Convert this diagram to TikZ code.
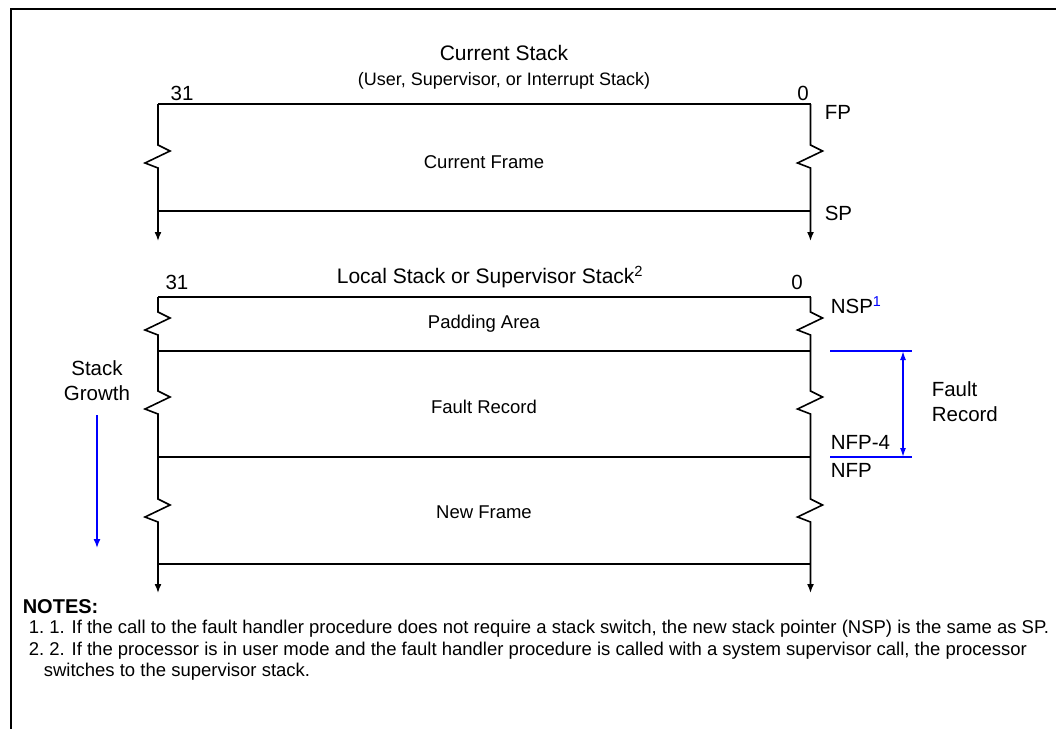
\documentclass[tikz,border=0pt]{standalone}
\usepackage{fontspec}
\setmainfont{Liberation Sans}
\usetikzlibrary{arrows.meta}

\begin{document}
\begin{tikzpicture}[x=1pt, y=-1pt, line width=1.6pt,
  zig/.style={insert path={-- ++(12,6) -- ++(-25,12) -- ++(13,5)}},
  downarr/.style={-{Latex[length=9pt,width=7pt]}},
  ttl/.style={inner sep=0pt, font=\fontsize{21}{25}\selectfont},
  sub/.style={inner sep=0pt, font=\fontsize{18}{22}\selectfont},
  box/.style={inner sep=0pt, font=\fontsize{18.5}{22}\selectfont},
  lbl/.style={inner sep=0pt, font=\fontsize{20.5}{25}\selectfont, align=left},
  note/.style={inner sep=0pt, anchor=west, font=\fontsize{18.5}{22}\selectfont}]
  \useasboundingbox (0,0) rectangle (1056,729);
  % Rahmen
  \draw[line width=2.2pt] (1056,9) -- (11,9) -- (11,729);
  \def\xl{158}
  \def\xr{810.5}
  % aktueller Stack
  \node[ttl] (cstk) at (504,53) {Current Stack};
  \node[sub] (csub) at (504,81) {(User, Supervisor, or Interrupt Stack)};
  \draw (\xl,104) -- (\xr,104);
  \draw (\xl,211) -- (\xr,211);
  \draw[downarr] (\xl,104) -- (\xl,145) [zig] -- (\xl,241);
  \draw[downarr] (\xr,104) -- (\xr,145) [zig] -- (\xr,241);
  \node[lbl] (c31) at (182,93) {31};
  \node[lbl] (c0) at (803,93) {0};
  \node[lbl, anchor=west] (fp) at (824,112) {FP};
  \node[lbl, anchor=west] (sp) at (824,213) {SP};
  \node[box] (cfr) at (484,162) {Current Frame};
  % lokaler Stack
  \node[ttl] (lstk) at (490,277) {Local Stack or Supervisor Stack\textsuperscript{2}};
  \draw (\xl,297) -- (\xr,297);
  \draw (\xl,351) -- (\xr,351);
  \draw (\xl,457) -- (\xr,457);
  \draw (\xl,564) -- (\xr,564);
  \draw[downarr] (\xl,297) -- (\xl,312) [zig] -- (\xl,391) [zig] -- (\xl,499) [zig] -- (\xl,593);
  \draw[downarr] (\xr,297) -- (\xr,312) [zig] -- (\xr,391) [zig] -- (\xr,499) [zig] -- (\xr,593);
  \node[lbl] (l31) at (177,282) {31};
  \node[lbl] (l0) at (797,282) {0};
  \node[box] (pad) at (484,324) {Padding Area};
  \node[box] (frec) at (484,407) {Fault Record};
  \node[box] (nfr) at (484,512) {New Frame};
  \node[lbl, anchor=west] (nsp) at (830,305) {NSP\textsuperscript{\color{blue}1}};
  \node[lbl, anchor=west] (nfp4) at (830,442) {NFP-4};
  \node[lbl, anchor=west] (nfp) at (830,470) {NFP};
  % Fault Record Markierung
  \coordinate (ft) at (903,351);
  \coordinate (fb) at (903,457);
  \draw[blue, line width=1.5pt] (830,351) -- (912,351);
  \draw[blue, line width=1.5pt] (830,457) -- (912,457);
  \draw[blue, line width=1.5pt, {Latex[length=9pt,width=6pt]}-{Latex[length=9pt,width=6pt]}] (ft) -- (fb);
  \node[lbl, anchor=west] (frl) at (931,402) {Fault\\Record};
  % Wachstumsrichtung
  \node[lbl, align=center] (sg) at (97,381) {Stack\\Growth};
  \coordinate (g1) at (97,415);
  \coordinate (g2) at (97,548);
  \draw[blue, line width=1.5pt, downarr] (g1) -- (g2);
  % Anmerkungen
  \node[note, font=\fontsize{20}{24}\selectfont\bfseries] (nts) at (22,607) {NOTES:};
  \node[note] (n1) at (28,629) {1.\ 1. If the call to the fault handler procedure does not require a stack switch, the new stack pointer (NSP) is the same as SP.};
  \node[note] (n2) at (28,651) {2.\ 2. If the processor is in user mode and the fault handler procedure is called with a system supervisor call, the processor};
  \node[note] (n3) at (43,672) {switches to the supervisor stack.};
\end{tikzpicture}
\end{document}
